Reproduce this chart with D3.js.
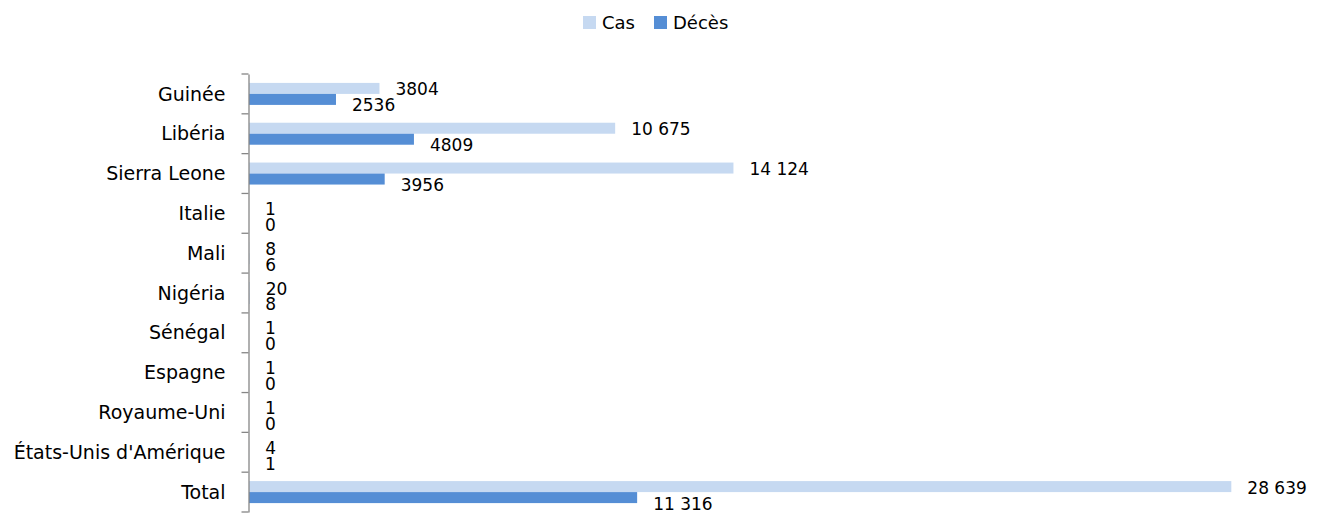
<!DOCTYPE html>
<html><head><meta charset="utf-8">
<script src="https://cdn.jsdelivr.net/npm/d3@7"></script>
<style>body{margin:0;background:#fff}svg{display:block}text{font-family:"DejaVu Sans",sans-serif;fill:#000}</style>
</head><body>
<svg id="c" width="1321" height="516"></svg>
<script>
const categories = ["Guinée","Libéria","Sierra Leone","Italie","Mali","Nigéria","Sénégal","Espagne","Royaume-Uni","États-Unis d'Amérique","Total"];
const cas    = [3804, 10675, 14124, 1, 8, 20, 1, 1, 1, 4, 28639];
const deces  = [2536, 4809, 3956, 0, 6, 8, 0, 0, 0, 1, 11316];
const seriesNames = ["Cas","Décès"];
const colors = ["#C6D9F1","#558ED5"];
const xMax = 30000;

const svg = d3.select("#c");
const W = 1321, H = 516;
const m = {left:249, right:43, top:74, bottom:4};

const x = d3.scaleLinear().domain([0, xMax]).range([m.left, W - m.right]);
const y = d3.scaleBand().domain(categories).range([m.top, H - m.bottom]).paddingInner(0).paddingOuter(0);
const y1 = d3.scaleBand().domain(seriesNames).range([0, y.bandwidth()]).paddingInner(0).paddingOuter(0.81);

const locale = d3.formatLocale({decimal:",", thousands:" ", grouping:[3], currency:["","€"]});
const fmtG = locale.format(",d");
const fmt = v => v >= 10000 ? fmtG(v) : String(v);

const data = categories.map((c,i)=>({cat:c, vals:[cas[i], deces[i]]}));

const g = svg.append("g");
data.forEach(d=>{
  d.vals.forEach((v,k)=>{
    const yy = y(d.cat) + y1(seriesNames[k]);
    g.append("rect")
      .attr("x", x(0)).attr("y", yy)
      .attr("width", Math.max(0, x(v) - x(0))).attr("height", y1.bandwidth())
      .attr("fill", colors[k]);
  });
});
// value labels
data.forEach(d=>{
  d.vals.forEach((v,k)=>{
    const cy = y(d.cat) + y1(seriesNames[k]) + y1.bandwidth()/2;
    g.append("text")
      .attr("x", x(v) + 16)
      .attr("y", cy + (k===0 ? 1 : 6))
      .attr("dominant-baseline","central")
      .style("font-size","17px")
      .text(fmt(v));
  });
});

// axis
const axis = d3.axisLeft(y).tickSize(0).tickPadding(23);
const ag = svg.append("g").attr("transform",`translate(${m.left - 0.5},0)`).call(axis);
ag.select(".domain").attr("stroke","#868686").attr("stroke-width",1.3);
ag.selectAll(".tick text").style("font-size","19px").attr("font-family",null).attr("dy","0.35em");
// boundary tick marks
const bounds = categories.map(c=>y(c)).concat([y(categories[categories.length-1]) + y.bandwidth()]);
ag.selectAll(".bt").data(bounds).enter().append("line")
  .attr("x1",-7).attr("x2",0).attr("y1",d=>d).attr("y2",d=>d)
  .attr("stroke","#868686").attr("stroke-width",1.3);

// legend
const lg = svg.append("g").attr("transform","translate(583,16)");
const items = [{n:seriesNames[0], c:colors[0], x:0},{n:seriesNames[1], c:colors[1], x:71}];
items.forEach(it=>{
  lg.append("rect").attr("x",it.x).attr("y",0).attr("width",13).attr("height",13).attr("fill",it.c);
  lg.append("text").attr("x",it.x+19).attr("y",6.5).attr("dominant-baseline","central").style("font-size","18px").text(it.n);
});
</script>
</body></html>
